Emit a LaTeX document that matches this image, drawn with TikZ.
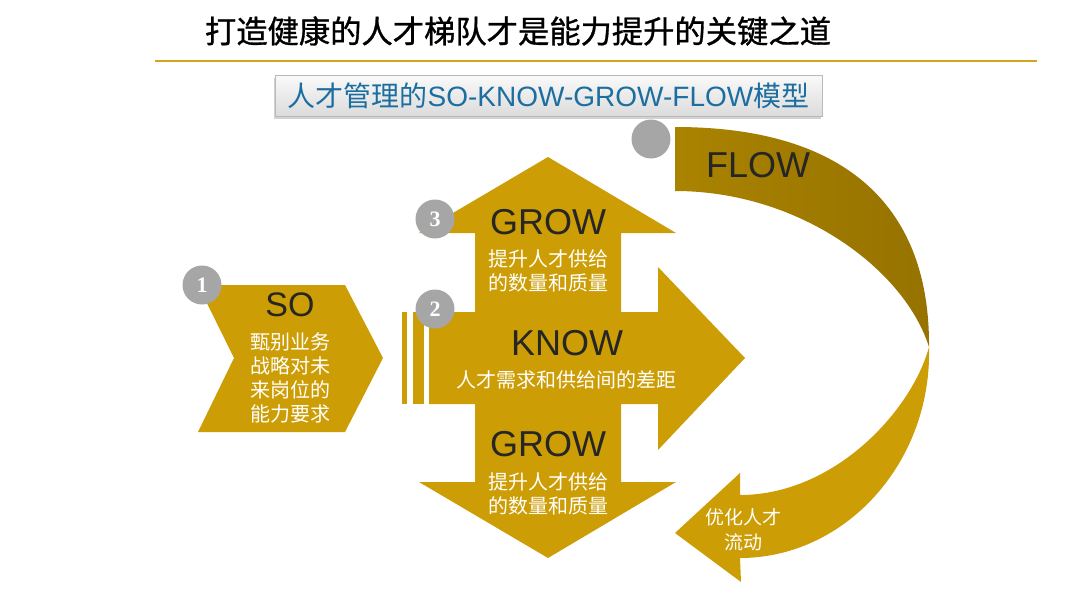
\documentclass[tikz,border=0pt]{standalone}
\usepackage{fontspec}
\setmainfont{Liberation Sans}
\newfontfamily\cjk{Noto Sans CJK SC}
\newfontfamily\cjktitle{Noto Sans CJK SC}[FakeBold=1]
\newfontfamily\numserif{Liberation Serif}
\usetikzlibrary{shadows}
\definecolor{gold}{RGB}{204,157,4}
\definecolor{goldline}{RGB}{212,165,30}
\definecolor{darkgoldA}{RGB}{170,131,0}
\definecolor{darkgoldB}{RGB}{150,114,0}
\definecolor{numgray}{RGB}{166,166,166}
\definecolor{subblue}{RGB}{28,110,160}
\definecolor{txtdark}{RGB}{38,38,38}
\begin{document}
\begin{tikzpicture}[x=1pt,y=-1pt,
  numcirc/.style={circle, fill=numgray, minimum size=39pt, inner sep=0pt, text=white,
    font=\numserif\bfseries\fontsize{22}{22}\selectfont},
  bigword/.style={inner sep=0pt, text=txtdark, font=\fontsize{36}{36}\selectfont},
  cjkwhite/.style={inner sep=0pt, text=white, align=center, font=\cjk\fontsize{20}{24}\selectfont},
  goldshape/.style={fill=gold}
]
\useasboundingbox (0,0) rectangle (1080,608);
\fill[white] (0,0) rectangle (1080,608);

% title
\node[inner sep=0pt, font=\cjktitle\fontsize{31.3}{32}\selectfont] (title) at (518,31) {打造健康的人才梯队才是能力提升的关键之道};
\coordinate (lineL) at (155,61);
\coordinate (lineR) at (1037,61);
\draw[goldline, line width=2pt] (lineL) -- (lineR);

% subtitle box
\node[draw=gray!55, top color=gray!4, bottom color=gray!28, minimum width=547pt, minimum height=41pt,
  inner sep=0pt, text=subblue, font=\fontsize{28}{28}\selectfont,
  drop shadow={shadow xshift=-1pt, shadow yshift=-3pt, opacity=0.35}] (subbox) at (548.5,95.5)
  {{\cjk 人才管理的}SO-KNOW-GROW-FLOW{\cjk 模型}};

% SO chevron
\fill[goldshape] (198,285) -- (345,285) -- (383,358) -- (345,432) -- (198,432) -- (234,358) -- cycle;

% bars
\fill[goldshape] (402,312) rectangle (407,404);
\fill[goldshape] (413,312) rectangle (424,404);

% KNOW / GROW cross arrow
\fill[goldshape] (548,157) -- (676,233) -- (621,233) -- (621,312) -- (658,312) -- (658,267)
  -- (745,358) -- (658,450) -- (658,404) -- (621,404) -- (621,482) -- (676,482) -- (548,558)
  -- (419,482) -- (475,482) -- (475,404) -- (429,404) -- (429,312) -- (475,312) -- (475,233)
  -- (419,233) -- cycle;

% FLOW ribbon, upper (dark) part
\coordinate (twist) at (929,347);
\shade[left color=darkgoldA, right color=darkgoldB] (675,127) .. controls (850,127) and (930,210) .. (twist)
  .. controls (905,270) and (800,191) .. (675,191) -- cycle;
% FLOW ribbon, lower part with arrow head
\fill[goldshape] (twist) .. controls (932,463) and (845,558) .. (740,558) -- (741,582) -- (675,533)
  -- (740,473) -- (740,495) .. controls (835,495) and (912,410) .. (twist) -- cycle;

% number circles
\node[numcirc] (c1) at (202,285) {1};
\node[numcirc] (c2) at (435,309) {2};
\node[numcirc] (c3) at (435,219) {3};
\node[numcirc] (c4) at (651,139) {};

% texts
\node[bigword, font=\fontsize{34}{34}\selectfont] (so) at (290,305) {SO};
\node[cjkwhite] (sotxt) at (290,378) {甄别业务\\战略对未\\来岗位的\\能力要求};

\node[bigword] (grow1) at (548,222) {GROW};
\node[cjkwhite] (grow1txt) at (548,271) {提升人才供给\\的数量和质量};

\node[bigword] (know) at (567,343) {KNOW};
\node[cjkwhite] (knowtxt) at (566,380) {人才需求和供给间的差距};

\node[bigword] (grow2) at (548,444) {GROW};
\node[cjkwhite] (grow2txt) at (548,494) {提升人才供给\\的数量和质量};

\node[bigword] (flow) at (758,165) {FLOW};
\node[cjkwhite, font=\cjk\fontsize{19}{25}\selectfont] (flowtxt) at (743,530) {优化人才\\流动};
\end{tikzpicture}
\end{document}
